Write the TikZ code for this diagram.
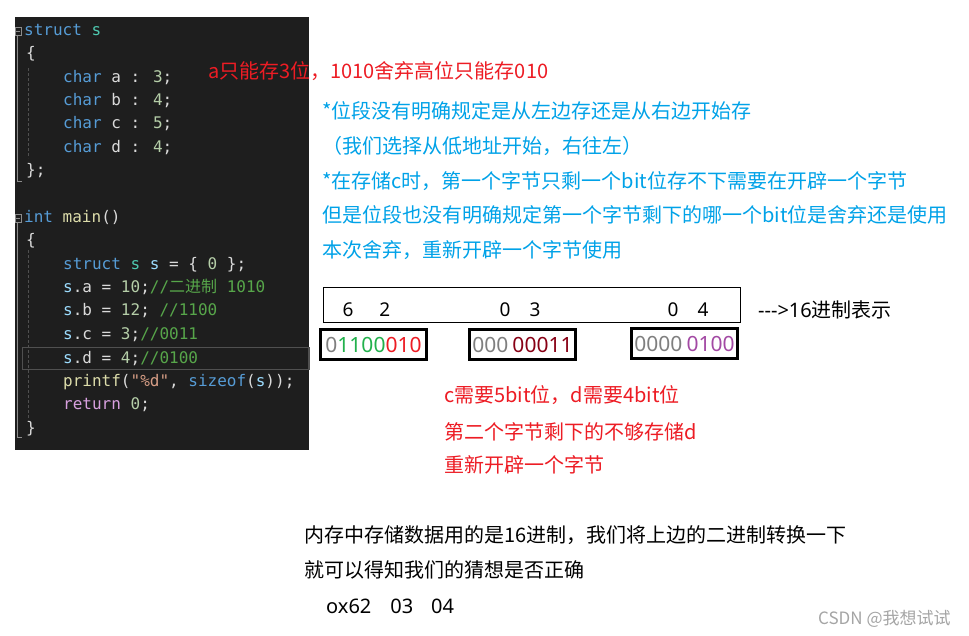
\documentclass[tikz,border=0pt]{standalone}
\usepackage{fontspec}
\setmainfont{Noto Sans CJK SC}
\newfontfamily\latfont{Noto Sans}
\newfontfamily\codefont{DejaVu Sans Mono}
\newfontfamily\cjk{Noto Sans CJK SC}
\usepackage{xcolor}
\usetikzlibrary{positioning}
\definecolor{codebg} {RGB}{ 30, 30, 30}
\definecolor{codekw} {RGB}{ 86,156,214}
\definecolor{codety} {RGB}{ 78,201,176}
\definecolor{codefn} {RGB}{220,220,170}
\definecolor{codevar}{RGB}{156,220,254}
\definecolor{codenum}{RGB}{181,206,168}
\definecolor{codecmt}{RGB}{ 87,166, 74}
\definecolor{codestr}{RGB}{214,157,133}
\definecolor{codectl}{RGB}{216,160,223}
\definecolor{codetxt}{RGB}{218,218,218}
\definecolor{codeln} {RGB}{ 80, 80, 80}
\definecolor{codegd} {RGB}{140,140,140}
\definecolor{pred}   {RGB}{237, 28, 36}
\definecolor{pblue}  {RGB}{  0,162,232}
\definecolor{pgreen} {RGB}{ 34,177, 76}
\definecolor{pgray}  {RGB}{127,127,127}
\definecolor{pdkred} {RGB}{136,  0, 21}
\definecolor{ppurple}{RGB}{163, 73,164}
\definecolor{wmark}  {RGB}{165,165,165}
\newcommand{\ckw}[1]{\textcolor{codekw}{#1}}
\newcommand{\cty}[1]{\textcolor{codety}{#1}}
\newcommand{\cfn}[1]{\textcolor{codefn}{#1}}
\newcommand{\cvar}[1]{\textcolor{codevar}{#1}}
\newcommand{\cnum}[1]{\textcolor{codenum}{#1}}
\newcommand{\ccmt}[1]{\textcolor{codecmt}{#1}}
\newcommand{\cstr}[1]{\textcolor{codestr}{#1}}
\newcommand{\cctl}[1]{\textcolor{codectl}{#1}}

\begin{document}
\begin{tikzpicture}[
  x=1pt, y=-1pt,
  code/.style={anchor=base west, inner sep=0pt, text=codetxt,
    font=\codefont\fontsize{16}{19}\selectfont},
  note/.style={anchor=base west, inner sep=0pt,
    font=\fontsize{20}{24}\selectfont},
  redline/.style={note, text=pred},
  blueline/.style={note, text=pblue},
  blackline/.style={note, text=black},
  hexdig/.style={inner sep=0pt, font=\latfont\fontsize{19}{19}\selectfont},
  bytebox/.style={draw=black, line width=3pt, inner sep=0pt,
    minimum width=106pt, minimum height=30pt,
    font=\latfont\fontsize{21}{21}\selectfont},
  guide/.style={codegd, line width=0.8pt},
  dguide/.style={codeln, line width=0.8pt, dash pattern=on 3pt off 2pt}
]
  \useasboundingbox[fill=white] (0,0) rectangle (969,636);
  % code panel
  \fill[codebg] (15,17) rectangle (309,450);
  \draw[codeln, line width=1.8pt] (22.5,347.5) rectangle (309,369.5);
  \draw[guide] (15.5,27) rectangle (21,35) (16,31) -- (20,31);
  \draw[guide] (17,36) -- (17,181) -- (22,181);
  \draw[guide] (15.5,214) rectangle (21,222) (16,218) -- (20,218);
  \draw[guide] (17,223) -- (17,437) -- (22,437);
  \draw[dguide] (28,68) -- (28,158);
  \draw[dguide] (28,250) -- (28,420);
  \node[code] (c1)  at (24,36)  {\ckw{struct} \cty{s}};
  \node[code] (c2)  at (26,59)  {\{};
  \node[code] (c3)  at (63,83)  {\ckw{char} a : \cnum{3};};
  \node[code] (c4)  at (63,106) {\ckw{char} b : \cnum{4};};
  \node[code] (c5)  at (63,129) {\ckw{char} c : \cnum{5};};
  \node[code] (c6)  at (63,153) {\ckw{char} d : \cnum{4};};
  \node[code] (c7)  at (26,176) {\};};
  \node[code] (c8)  at (24,223) {\ckw{int} \cfn{main}()};
  \node[code] (c9)  at (26,246) {\{};
  \node[code] (c10) at (63,270) {\ckw{struct} \cty{s} \cvar{s} = \{ \cnum{0} \};};
  \node[code] (c11) at (63,293) {\cvar{s}.a = \cnum{10};\ccmt{//{\cjk 二进制} 1010}};
  \node[code] (c12) at (63,316) {\cvar{s}.b = \cnum{12}; \ccmt{//1100}};
  \node[code] (c13) at (63,339) {\cvar{s}.c = \cnum{3};\ccmt{//0011}};
  \node[code] (c14) at (63,363) {\cvar{s}.d = \cnum{4};\ccmt{//0100}};
  \node[code] (c15) at (63,386) {\cfn{printf}(\cstr{"\%d"}, \ckw{sizeof}(\cvar{s}));};
  \node[code] (c16) at (63,409) {\cctl{return} \cnum{0};};
  \node[code] (c17) at (26,433) {\}};
  % notes
  \node[redline] (na) at (208,78.5) {a只能存3位，1010舍弃高位只能存010};
  \node[blueline] (nb1) at (322,118.5) {*位段没有明确规定是从左边存还是从右边开始存};
  \node[blueline] (nb2) at (322,153.5) {（我们选择从低地址开始，右往左）};
  \node[blueline] (nb3) at (322,188.5) {*在存储c时，第一个字节只剩一个bit位存不下需要在开辟一个字节};
  \node[blueline] (nb4) at (322,222.5) {但是位段也没有明确规定第一个字节剩下的哪一个bit位是舍弃还是使用};
  \node[blueline] (nb5) at (322,257.5) {本次舍弃，重新开辟一个字节使用};
  % bytes
  \node[draw, line width=1pt, minimum width=417pt, minimum height=35pt,
    inner sep=0pt] (hexrow) at (531.5,305) {};
  \node[hexdig] (h1) at (366.5,310) {6\hspace{26pt}2};
  \node[hexdig] (h2) at (520,310)   {0\hspace{19pt}3};
  \node[hexdig] (h3) at (688,310)   {0\hspace{19pt}4};
  \node[blackline] (hexnote) at (758,317)
    {{\latfont\mbox{-}\mbox{-}\mbox{-}>16}进制表示};
  \node[bytebox] (b1) at (373.5,344.5)
    {\textcolor{pgray}{0}\textcolor{pgreen}{1100}\textcolor{pred}{010}};
  \node[bytebox] (b2) at (522.5,344.5)
    {\textcolor{pgray}{000}\hspace{4pt}\textcolor{pdkred}{00011}};
  \node[bytebox] (b3) at (684.5,343.5)
    {\textcolor{pgray}{0000}\hspace{4pt}\textcolor{ppurple}{0100}};
  \node[redline] (nc1) at (444,402.5) {c需要5bit位，d需要4bit位};
  \node[redline] (nc2) at (444,439.5) {第二个字节剩下的不够存储d};
  \node[redline] (nc3) at (444,472.5) {重新开辟一个字节};
  % conclusion
  \node[blackline] (nd1) at (304,542.5) {内存中存储数据用的是16进制，我们将上边的二进制转换一下};
  \node[blackline] (nd2) at (304,577.5) {就可以得知我们的猜想是否正确};
  \node[blackline, font=\latfont\fontsize{20}{24}\selectfont] (nd3) at (326,613)
    {ox62\hspace{19pt}03\hspace{18pt}04};
  \node[anchor=base west, inner sep=0pt, text=wmark,
    font=\fontsize{17}{17}\selectfont] (mark) at (818,624) {CSDN @我想试试};
\end{tikzpicture}
\end{document}
